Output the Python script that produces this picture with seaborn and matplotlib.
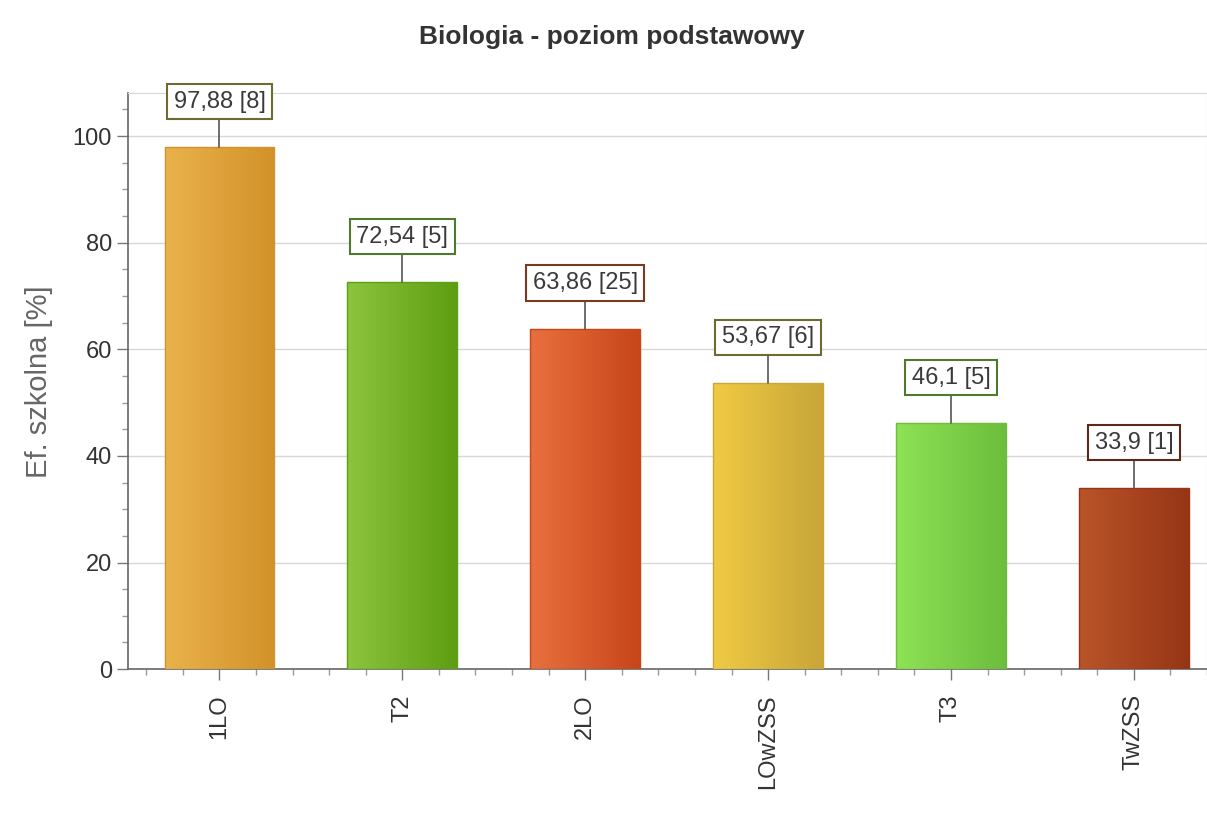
import numpy as np
import pandas as pd
import matplotlib
matplotlib.use("Agg")
import matplotlib.pyplot as plt
import seaborn as sns
from matplotlib.colors import LinearSegmentedColormap
from matplotlib.ticker import MultipleLocator

# Data
schools = ["1LO", "T2", "2LO", "LOwZSS", "T3", "TwZSS"]
values = [97.88, 72.54, 63.86, 53.67, 46.1, 33.9]
counts = [8, 5, 25, 6, 5, 1]
labels = ["97,88 [8]", "72,54 [5]", "63,86 [25]", "53,67 [6]", "46,1 [5]", "33,9 [1]"]

# gradient colours (left, right) and label box edge colours
left_colors = ["#EAB24C", "#8CC43E", "#E8703E", "#F0CA44", "#8EE254", "#BA5428"]
right_colors = ["#D2922A", "#5E9E12", "#C8461A", "#C8A638", "#6CBE3C", "#963616"]
edge_colors = ["#6E6A30", "#4E7A30", "#7A3A22", "#6E6A30", "#4E7A30", "#5A2A18"]

df = pd.DataFrame({"school": schools, "value": values})

sns.set_style("white", {"xtick.bottom": True, "ytick.left": True})
plt.rcParams["font.family"] = ["Liberation Sans", "DejaVu Sans"]

fig = plt.figure(figsize=(12.07, 8.19), dpi=100)
ax = fig.add_axes([128 / 1207, 0.183, 1.0 - 128 / 1207, 0.703])

sns.barplot(data=df, x="school", y="value", ax=ax, width=0.6,
            color="white", saturation=1, edgecolor="none", zorder=2)

ax.set_xlim(-0.5, 5.4)
ax.set_ylim(0, 108)

# gradient fill for each bar
for i, patch in enumerate(ax.patches):
    x0, y0 = patch.get_x(), patch.get_y()
    w, h = patch.get_width(), patch.get_height()
    cmap = LinearSegmentedColormap.from_list("g", [left_colors[i], right_colors[i]])
    grad = np.linspace(0, 1, 64).reshape(1, -1)
    im = ax.imshow(grad, cmap=cmap, aspect="auto", extent=[x0, x0 + w, y0, y0 + h],
                   zorder=3)
    im.set_clip_path(patch)
    ax.add_patch(plt.Rectangle((x0, y0), w, h, fill=False, edgecolor=right_colors[i],
                               linewidth=1.0, zorder=4))

# value labels with connector line
for i, v in enumerate(values):
    ax.plot([i, i], [v, v + 6.5], color="#555555", linewidth=1.2, zorder=4)
    ax.text(i, v + 6.5, labels[i], ha="center", va="bottom", fontsize=17,
            color="#3A3A3A", zorder=5,
            bbox=dict(boxstyle="square,pad=0.28", facecolor="white",
                      edgecolor=edge_colors[i], linewidth=1.5))

ax.yaxis.set_major_locator(MultipleLocator(20))
ax.yaxis.set_minor_locator(MultipleLocator(5))
ax.xaxis.set_minor_locator(MultipleLocator(0.2))
ax.grid(axis="y", which="major", color="#D8D8D8", linewidth=1.0, zorder=0)
ax.set_axisbelow(True)

for side in ["left", "bottom"]:
    ax.spines[side].set_color("#666666")
    ax.spines[side].set_linewidth(1.2)
for side in ["top", "right"]:
    ax.spines[side].set_color("#D8D8D8")

ax.tick_params(axis="both", which="major", direction="out", length=8, width=1,
               color="#777777", labelsize=17, labelcolor="#333333",
               bottom=True, left=True)
ax.tick_params(axis="both", which="minor", direction="out", length=4, width=1,
               color="#999999", bottom=True, left=True)
ax.tick_params(axis="x", which="major", pad=10)
plt.setp(ax.get_xticklabels(), rotation=90)

ax.set_xlabel("")
ax.set_ylabel("Ef. szkolna [%]", fontsize=21, color="#666666", labelpad=14)
fig.suptitle("Biologia - poziom podstawowy", x=0.507, y=0.97, fontsize=19,
             fontweight="bold", color="#333333")

fig.savefig("out.png", dpi=100)
